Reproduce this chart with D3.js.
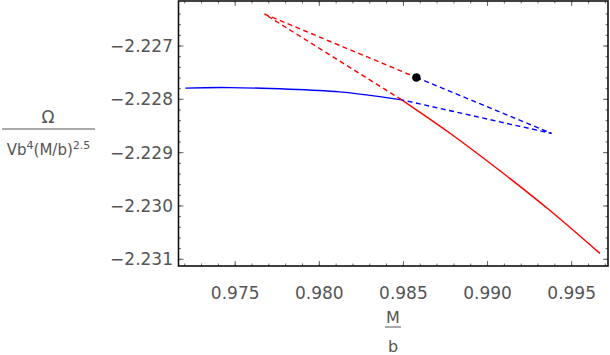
<!DOCTYPE html>
<html>
<head>
<meta charset="utf-8">
<script src="https://cdn.jsdelivr.net/npm/d3@7"></script>
<style>
  body { margin: 0; background: #fff; }
  text { font-family: 'DejaVu Sans', sans-serif; fill: #555; }
</style>
</head>
<body>
<div id="chart"></div>
<script>
let width = 610
let height = 355

// data
let blueSolidX = [0.97204, 0.97466, 0.97823, 0.98121, 0.98359, 0.98490]
let blueSolidY = [-2.22779, -2.22778, -2.22781, -2.22786, -2.22795, -2.22801]

let redSolidX = [0.98490, 0.98783, 0.99078, 0.99373, 0.99668]
let redSolidY = [-2.22801, -2.22865, -2.22935, -2.23009, -2.23089]

// cusp -> upper corner -> dot
let redDashX = [0.98490, 0.97674, 0.98577]
let redDashY = [-2.22801, -2.22640, -2.22759]

// dot -> right corner -> cusp
let blueDashX = [0.98577, 0.99381, 0.98490]
let blueDashY = [-2.22759, -2.22864, -2.22801]

let dotX = [0.98577]
let dotY = [-2.22759]

let xTicks = [0.975, 0.98, 0.985, 0.99, 0.995]
let xTickLabels = ['0.975', '0.980', '0.985', '0.990', '0.995']
let yTicks = [-2.227, -2.228, -2.229, -2.23, -2.231]
let yTickLabels = ['\u22122.227', '\u22122.228', '\u22122.229', '\u22122.230', '\u22122.231']

let frame = { left: 178.5, right: 608, top: 1, bottom: 266 }

let x = d3.scaleLinear().domain([0.97163, 0.99716]).range([frame.left, frame.right])
let y = d3.scaleLinear().domain([-2.231126, -2.226156]).range([frame.bottom, frame.top])

let svg = d3.select('#chart')
  .append('svg')
  .attr('width', width)
  .attr('height', height)

let zip = (xs, ys) => xs.map((d, i) => [d, ys[i]])

let line = d3.line().x(d => x(d[0])).y(d => y(d[1]))
let smooth = d3.line().x(d => x(d[0])).y(d => y(d[1])).curve(d3.curveNatural)

// minor ticks, only the ones inside the frame
let inX = v => v >= x.domain()[0] && v <= x.domain()[1]
let inY = v => v >= y.domain()[0] && v <= y.domain()[1]
let xMinor = d3.range(0.972, 0.9971, 0.001).filter(inX)
let yMinor = d3.range(-2.2312, -2.2262, 0.0002).filter(inY)

let tickColor = '#666'

function drawTicks(g, values, orient, len) {
  values.forEach(v => {
    if (orient === 'bottom' || orient === 'top') {
      let px = x(v)
      let y0 = orient === 'bottom' ? frame.bottom : frame.top
      let dir = orient === 'bottom' ? -1 : 1
      g.append('line').attr('x1', px).attr('x2', px).attr('y1', y0).attr('y2', y0 + dir * len)
        .attr('stroke', tickColor).attr('stroke-width', 1)
    } else {
      let py = y(v)
      let x0 = orient === 'left' ? frame.left : frame.right
      let dir = orient === 'left' ? 1 : -1
      g.append('line').attr('y1', py).attr('y2', py).attr('x1', x0).attr('x2', x0 + dir * len)
        .attr('stroke', tickColor).attr('stroke-width', 1)
    }
  })
}

let ticks = svg.append('g')
drawTicks(ticks, xMinor, 'bottom', 2.5)
drawTicks(ticks, xMinor, 'top', 2.5)
drawTicks(ticks, xTicks, 'bottom', 5)
drawTicks(ticks, xTicks, 'top', 5)
drawTicks(ticks, yMinor, 'left', 2.5)
drawTicks(ticks, yMinor, 'right', 2.5)
drawTicks(ticks, yTicks, 'left', 5)
drawTicks(ticks, yTicks, 'right', 5)

// tick labels
svg.selectAll('.x-label')
  .data(xTicks)
  .enter()
  .append('text')
  .attr('class', 'x-label')
  .attr('x', d => x(d))
  .attr('y', 299)
  .attr('text-anchor', 'middle')
  .attr('font-size', 17)
  .text((d, i) => xTickLabels[i])

svg.selectAll('.y-label')
  .data(yTicks)
  .enter()
  .append('text')
  .attr('class', 'y-label')
  .attr('x', 173)
  .attr('y', d => y(d) + 6)
  .attr('text-anchor', 'end')
  .attr('font-size', 17)
  .text((d, i) => yTickLabels[i])

// curves
svg.append('path')
  .datum(zip(blueSolidX, blueSolidY))
  .attr('d', smooth)
  .attr('fill', 'none')
  .attr('stroke', '#0000ff')
  .attr('stroke-width', 1.4)

svg.append('path')
  .datum(zip(redSolidX, redSolidY))
  .attr('d', smooth)
  .attr('fill', 'none')
  .attr('stroke', '#ff0000')
  .attr('stroke-width', 1.4)

svg.append('path')
  .datum(zip(redDashX, redDashY))
  .attr('d', line)
  .attr('fill', 'none')
  .attr('stroke', '#ff0000')
  .attr('stroke-width', 1.4)
  .attr('stroke-dasharray', '5,3.5')

svg.append('path')
  .datum(zip(blueDashX, blueDashY))
  .attr('d', line)
  .attr('fill', 'none')
  .attr('stroke', '#0000ff')
  .attr('stroke-width', 1.4)
  .attr('stroke-dasharray', '5,3.5')

svg.selectAll('.dot')
  .data(zip(dotX, dotY))
  .enter()
  .append('circle')
  .attr('class', 'dot')
  .attr('cx', d => x(d[0]))
  .attr('cy', d => y(d[1]))
  .attr('r', 4.3)
  .attr('fill', '#000')

// frame
svg.append('rect')
  .attr('x', frame.left)
  .attr('y', frame.top)
  .attr('width', frame.right - frame.left)
  .attr('height', frame.bottom - frame.top)
  .attr('fill', 'none')
  .attr('stroke', '#111')
  .attr('stroke-width', 1.6)

// x axis title: M over b
let xt = svg.append('g').attr('transform', 'translate(393,0)')
xt.append('text').attr('x', 0).attr('y', 323).attr('text-anchor', 'middle').attr('font-size', 16).text('M')
xt.append('line').attr('x1', -8).attr('x2', 8).attr('y1', 327).attr('y2', 327).attr('stroke', '#555').attr('stroke-width', 1)
xt.append('text').attr('x', 0).attr('y', 352).attr('text-anchor', 'middle').attr('font-size', 16).text('b')

// y axis title: Omega over V b^4 (M/b)^2.5
let yt = svg.append('g')
yt.append('text').attr('x', 48).attr('y', 123).attr('text-anchor', 'middle').attr('font-size', 17).text('\u03a9')
yt.append('line').attr('x1', 2).attr('x2', 95).attr('y1', 129).attr('y2', 129).attr('stroke', '#555').attr('stroke-width', 1)
let den = yt.append('text').attr('x', 48.5).attr('y', 155).attr('text-anchor', 'middle').attr('font-size', 15)
den.append('tspan').text('Vb')
den.append('tspan').attr('font-size', 11).attr('dy', -6).text('4')
den.append('tspan').attr('dy', 6).text('(M/b)')
den.append('tspan').attr('font-size', 11).attr('dy', -6).text('2.5')
</script>
</body>
</html>
